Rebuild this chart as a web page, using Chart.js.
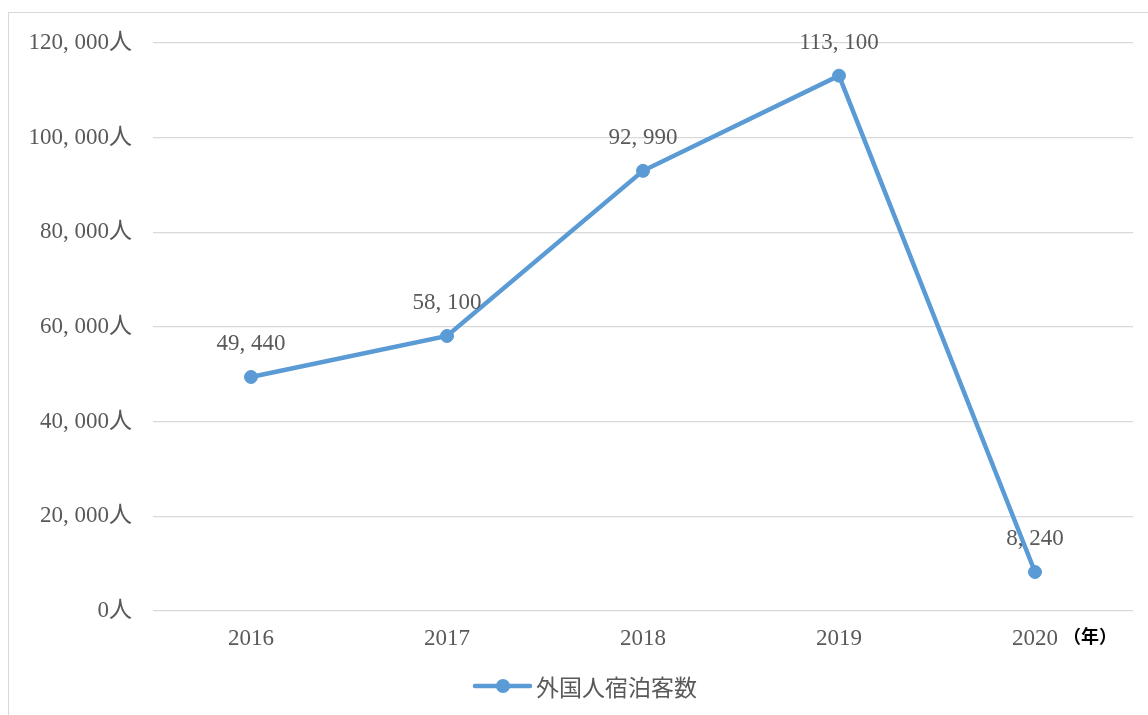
<!DOCTYPE html>
<html>
<head>
<meta charset="utf-8">
<script src="https://cdn.jsdelivr.net/npm/chart.js@4"></script>
<style>
  html,body{margin:0;padding:0;background:#fff;}
  #wrap{position:relative;width:1148px;height:715px;overflow:hidden;}
  #frame{position:absolute;left:8px;top:12px;width:1160px;height:720px;border:1.5px solid #d9d9d9;box-sizing:border-box;}
  canvas{position:absolute;left:0;top:0;}
</style>
</head>
<body>
<div id="wrap">
  <div id="frame"></div>
  <canvas id="c" width="1148" height="715"></canvas>
</div>
<script>
const categories = ['2016', '2017', '2018', '2019', '2020'];
const seriesName = '外国人宿泊客数';
const visitors = [49440, 58100, 92990, 113100, 8240];
const yTicks = [0, 20000, 40000, 60000, 80000, 100000, 120000];
const xUnit = '（年）';

const serif = '"Liberation Serif", "Noto Sans CJK JP", serif';
const sans = '"Noto Sans CJK JP", "Noto Sans", sans-serif';
const blue = '#5B9BD5';
const gray = '#595959';

function fmt(v){
  return String(v).replace(/\B(?=(\d{3})+(?!\d))/g, ', ');
}

const extras = {
  id: 'extras',
  afterDatasetsDraw(chart){
    const ctx = chart.ctx;
    const meta = chart.getDatasetMeta(0);
    ctx.save();
    ctx.font = '23px ' + serif;
    ctx.fillStyle = gray;
    ctx.textAlign = 'center';
    ctx.textBaseline = 'middle';
    meta.data.forEach((pt, i) => {
      ctx.fillText(fmt(visitors[i]), pt.x, pt.y - 33);
    });
    // unit label
    ctx.font = 'bold 18px ' + sans;
    ctx.fillStyle = '#000';
    ctx.textAlign = 'left';
    ctx.fillText(xUnit, chart.chartArea.right - 70, chart.chartArea.bottom + 25);
    // legend
    const ly = 686;
    const lx = 475;
    ctx.strokeStyle = blue;
    ctx.lineWidth = 4.5;
    ctx.lineCap = 'round';
    ctx.beginPath();
    ctx.moveTo(lx, ly);
    ctx.lineTo(lx + 55, ly);
    ctx.stroke();
    ctx.fillStyle = blue;
    ctx.beginPath();
    ctx.arc(lx + 28, ly, 7, 0, Math.PI * 2);
    ctx.fill();
    ctx.font = '23px ' + sans;
    ctx.fillStyle = gray;
    ctx.textAlign = 'left';
    ctx.fillText(seriesName, lx + 61, ly + 1);
    ctx.restore();
  }
};

new Chart(document.getElementById('c'), {
  type: 'line',
  data: {
    labels: categories,
    datasets: [{
      label: seriesName,
      data: visitors,
      borderColor: blue,
      backgroundColor: blue,
      borderWidth: 4.5,
      pointRadius: 6.5,
      pointBorderWidth: 1,
      pointBackgroundColor: blue,
      pointBorderColor: blue,
      tension: 0
    }]
  },
  options: {
    responsive: false,
    animation: false,
    devicePixelRatio: 1,
    layout: { padding: { left: 0, right: 15, top: 43, bottom: 54 } },
    plugins: {
      legend: { display: false },
      tooltip: { enabled: false }
    },
    scales: {
      x: {
        offset: true,
        grid: { display: false },
        border: { display: false },
        ticks: { color: gray, font: { family: serif, size: 23 }, padding: 6, maxRotation: 0 },
        afterFit(scale){ scale.height = 50; }
      },
      y: {
        min: 0,
        max: 120000,
        afterBuildTicks(scale){ scale.ticks = yTicks.map(v => ({ value: v })); },
        grid: { color: '#d9d9d9', lineWidth: 1.3, drawTicks: false },
        border: { display: false },
        ticks: {
          color: gray,
          font: { family: serif, size: 23 },
          padding: 21,
          callback: (v) => fmt(v) + '人'
        },
        afterFit(scale){ scale.width = 153; }
      }
    }
  },
  plugins: [extras]
});
</script>
</body>
</html>
